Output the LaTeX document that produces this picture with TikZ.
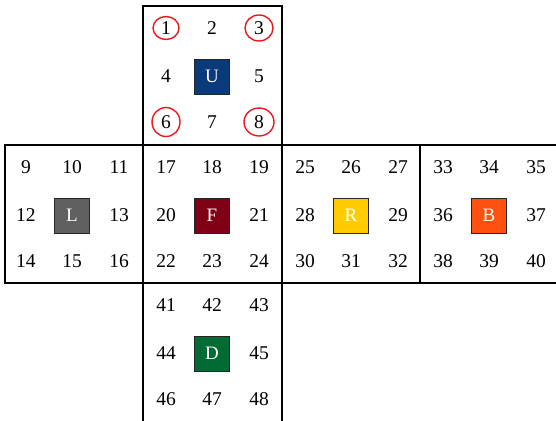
\documentclass[tikz,border=0pt]{standalone}
\usepackage{fontspec}
\setmainfont{Liberation Serif}
\definecolor{ucol}{HTML}{0A3A7A}
\definecolor{lcol}{HTML}{606060}
\definecolor{fcol}{HTML}{7F0015}
\definecolor{rcol}{HTML}{FFCC00}
\definecolor{bcol}{HTML}{FF5010}
\definecolor{dcol}{HTML}{006B33}
\definecolor{ringred}{HTML}{E8181C}
\begin{document}
\begin{tikzpicture}[x=1pt,y=-1pt,
  num/.style={font=\fontsize{19.5}{22}\selectfont, inner sep=0pt},
  facesq/.style={draw=black!85, line width=0.8pt, minimum size=35pt, inner sep=0pt, text=white, font=\fontsize{19}{22}\selectfont},
  frame/.style={line width=2pt, line cap=rect},
  redring/.style={draw=ringred, line width=1.4pt}]
\useasboundingbox (0,0) rectangle (556,420);
\clip (0,0) rectangle (556,420);
% frames
\draw[frame] (143,6) rectangle (282,145);
\draw[frame] (5,145) -- (570,145);
\draw[frame] (5,283) -- (570,283);
\foreach \xv in {5,143,282,420} \draw[frame] (\xv,145) -- (\xv,283);
\draw[frame] (143,283) -- (143,430);
\draw[frame] (282,283) -- (282,430);
% faces
\foreach \fl/\ft/\s/\lab/\col in {143/6/0/U/ucol, 3/145/8/L/lcol, 143/145/16/F/fcol, 282/145/24/R/rcol, 420/145/32/B/bcol, 143/283/40/D/dcol}{
  \node[facesq, fill=\col] (c\lab) at (\fl+69,\ft+70.5) {\lab};
  \foreach \k/\dx/\dy in {1/23/22, 2/69/22, 3/116/22, 4/23/70.5, 5/116/70.5, 6/23/116, 7/69/116, 8/116/116}{
    \pgfmathtruncatemacro\n{\s+\k}
    \node[num] (n\n) at (\fl+\dx,\ft+\dy) {\n};
  }
}
% red rings
\draw[redring] (n1.center) ellipse [x radius=13, y radius=11.5];
\draw[redring] (n3.center) ellipse [x radius=14, y radius=13];
\draw[redring] (n6.center) ellipse [x radius=14, y radius=14.5];
\draw[redring] (n8.center) ellipse [x radius=15, y radius=14];
\end{tikzpicture}
\end{document}
